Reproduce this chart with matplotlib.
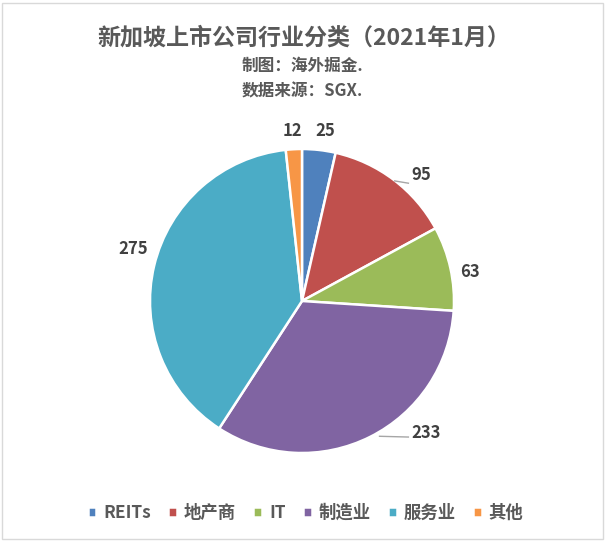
import numpy as np
import matplotlib.pyplot as plt
from matplotlib.patches import Rectangle

plt.rcParams['font.family'] = ['Noto Sans CJK SC', 'DejaVu Sans']

categories = ['REITs', '地产商', 'IT', '制造业', '服务业', '其他']
counts = [25, 95, 63, 233, 275, 12]
colors = ['#4F81BD', '#C0504D', '#9BBB59', '#8064A2', '#4BACC6', '#F79646']

# label nudges: (angle offset in degrees, distance from centre in radii)
label_adj = [(-1.5, 1.13), (-6.3, 1.14), (-2.6, 1.12), (16.6, 1.19), (-3.6, 1.16), (0.3, 1.12)]

W, H = 605, 542
fig = plt.figure(figsize=(W / 100, H / 100), dpi=100)
fig.patch.set_facecolor('white')

cx, cy, r = 302, 301, 152
ax = fig.add_axes([(cx - r) / W, (H - cy - r) / H, 2 * r / W, 2 * r / H])
wedges, _ = ax.pie(counts, colors=colors, startangle=90, counterclock=False,
                   radius=1, wedgeprops=dict(edgecolor='white', linewidth=1.8))
ax.set_xlim(-1, 1)
ax.set_ylim(-1, 1)
ax.set_aspect('equal')
ax.axis('off')

for w, val, (da, rr) in zip(wedges, counts, label_adj):
    mid = np.deg2rad((w.theta1 + w.theta2) / 2 + da)
    x, y = rr * np.cos(mid), rr * np.sin(mid)
    ax.text(x, y, str(val), ha='center', va='center', fontsize=12,
            fontweight='bold', color='#404040', clip_on=False)

# leader lines for 95 and 233
ax.plot([0.61, 0.70], [0.79, 0.775], color='#A6A6A6', lw=1, clip_on=False)
ax.plot([0.51, 0.70], [-0.89, -0.895], color='#A6A6A6', lw=1, clip_on=False)

fig.text(0.503, 1 - 38 / H, '新加坡上市公司行业分类（2021年1月）', ha='center', va='center',
         fontsize=16.6, fontweight='bold', color='#595959')
fig.text(0.5, 1 - 66 / H, '制图：海外掘金.', ha='center', va='center',
         fontsize=12, fontweight='bold', color='#595959')
fig.text(0.5, 1 - 91 / H, '数据来源：SGX.', ha='center', va='center',
         fontsize=12, fontweight='bold', color='#595959')

leg = fig.legend(wedges, categories, loc='center', bbox_to_anchor=(0.505, 1 - 513 / H),
                 ncol=6, frameon=False, handlelength=0.5, handleheight=0.5,
                 handletextpad=0.4, columnspacing=1.0, fontsize=12.5)
for t in leg.get_texts():
    t.set_color('#595959')
    t.set_fontweight('bold')

fig.patches.append(Rectangle((2 / W, 3 / H), 1 - 4 / W, 1 - 6 / H, transform=fig.transFigure,
                             fill=False, edgecolor='#D9D9D9', lw=1))

fig.savefig('out.png', dpi=100, facecolor='white')
